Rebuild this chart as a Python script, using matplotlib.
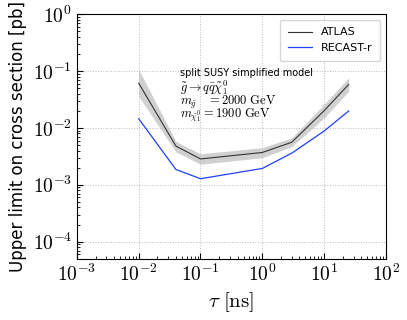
import numpy as np
import matplotlib
matplotlib.use('Agg')
import matplotlib.pyplot as plt
from matplotlib.ticker import FuncFormatter

plt.rcParams['mathtext.fontset'] = 'cm'
plt.rcParams['font.family'] = 'DejaVu Sans'

# lifetimes [ns]
tau = [0.01, 0.04, 0.1, 1.0, 3.0, 10.0, 25.0]
# ATLAS observed limit and band
atlas = [0.061, 0.0048, 0.00285, 0.0037, 0.0056, 0.020, 0.058]
atlas_up = [0.106, 0.0058, 0.0035, 0.0045, 0.0067, 0.026, 0.076]
atlas_dn = [0.036, 0.0038, 0.0023, 0.0030, 0.0047, 0.015, 0.044]
# RECAST-r
recast = [0.0145, 0.00186, 0.00128, 0.00194, 0.0036, 0.0088, 0.0198]


def pow10(v, pos):
    return r'$10^{%d}$' % int(round(np.log10(v)))


fig = plt.figure(figsize=(4.07, 3.2), dpi=100)
ax = fig.add_axes([0.189, 0.191, 0.759, 0.765])

ax.fill_between(tau, atlas_dn, atlas_up, color='#d0d0d0', lw=0)
ax.plot(tau, atlas, color='#333333', lw=0.8, label='ATLAS')
ax.plot(tau, recast, color='#2040ff', lw=0.9, label='RECAST-r')

ax.set_xscale('log')
ax.set_yscale('log')
ax.set_xlim(1e-3, 1e2)
ax.set_ylim(5e-5, 1)
ax.xaxis.set_major_formatter(FuncFormatter(pow10))
ax.yaxis.set_major_formatter(FuncFormatter(pow10))
ax.grid(True, which='major', ls=':', color='#bbbbbb', lw=0.7)
ax.tick_params(which='both', direction='in', labelsize=14)
ax.tick_params(which='major', length=4)
ax.tick_params(which='minor', length=2)
ax.set_xlabel(r'$\tau\ [\mathrm{ns}]$', fontsize=15)
ax.set_ylabel('Upper limit on cross section [pb]', fontsize=12)

ax.text(0.333, 0.747, 'split SUSY simplified model', transform=ax.transAxes,
        fontsize=7, va='baseline')
ax.text(0.333, 0.684, r'$\tilde{g} \rightarrow q\bar{q}\tilde{\chi}_1^0$',
        transform=ax.transAxes, fontsize=9, va='baseline')
ax.text(0.333, 0.630, r'$m_{\tilde{g}}\ \ \ = 2000\ \mathrm{GeV}$',
        transform=ax.transAxes, fontsize=9, va='baseline')
ax.text(0.333, 0.577, r'$m_{\tilde{\chi}_1^0} = 1900\ \mathrm{GeV}$',
        transform=ax.transAxes, fontsize=9, va='baseline')

ax.legend(loc='upper right', fontsize=8, handlelength=2.2, borderpad=0.7)

fig.savefig('out.png', dpi=100)
